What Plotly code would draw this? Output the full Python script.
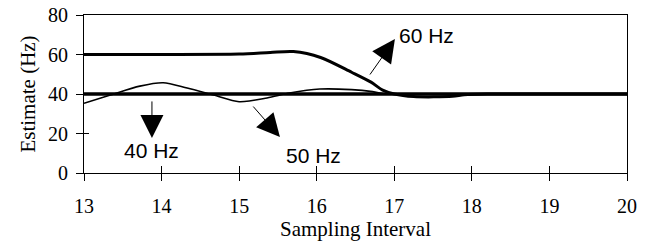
import plotly.graph_objects as go

# Data
x40 = [13, 14, 15, 16, 17, 18, 19, 20]
y40 = [40, 40, 40, 40, 40, 40, 40, 40]

x60 = [13, 14, 15, 15.4, 15.7, 16.05, 16.45, 16.7, 16.85, 17.0, 17.25, 17.75, 17.9, 18.2, 19, 20]
y60 = [60, 60, 60.2, 61.0, 61.5, 58.5, 51, 46, 42, 40, 38.7, 38.8, 39.6, 40, 40, 40]

x50 = [13, 13.34, 13.72, 14.02, 14.33, 14.67, 15.0, 15.36, 15.65, 16.04, 16.45, 16.72, 16.9, 17.2, 18, 19, 20]
y50 = [35.3, 39.5, 44, 45.7, 43, 39.5, 36.1, 38, 40.5, 42.5, 42.2, 41.2, 40, 40, 40, 40, 40]

x_ticks = [13, 14, 15, 16, 17, 18, 19, 20]
y_ticks = [0, 20, 40, 60, 80]

labels = ["40 Hz", "50 Hz", "60 Hz"]
label_x = [13.87, 15.96, 17.41]
label_y = [11.6, 9.1, 69.4]
arrow_tip_x = [13.876, 15.526, 17.008]
arrow_tip_y = [17.7, 18.2, 67.8]
arrow_tail_x = [13.876, 15.165, 16.673]
arrow_tail_y = [37.0, 34.4, 49.1]

fig = go.Figure()
fig.add_trace(go.Scatter(x=x50, y=y50, mode="lines", line=dict(color="black", width=1.6, shape="spline", smoothing=0.8), showlegend=False))
fig.add_trace(go.Scatter(x=x40, y=y40, mode="lines", line=dict(color="black", width=3.4), showlegend=False))
fig.add_trace(go.Scatter(x=x60, y=y60, mode="lines", line=dict(color="black", width=3, shape="spline", smoothing=0.8), showlegend=False))
# invisible trace to activate overlay axes for crossing ticks
fig.add_trace(go.Scatter(x=[13], y=[0], xaxis="x2", yaxis="y2", mode="markers", marker=dict(opacity=0), showlegend=False, hoverinfo="skip"))

for t, lx, ly in zip(labels, label_x, label_y):
    fig.add_annotation(x=lx, y=ly, text=t, showarrow=False,
                       font=dict(family="Liberation Sans, Arial", size=21, color="black"))
for tx, ty, ax, ay in zip(arrow_tip_x, arrow_tip_y, arrow_tail_x, arrow_tail_y):
    fig.add_annotation(x=tx, y=ty, ax=ax, ay=ay, axref="x", ayref="y", xref="x", yref="y",
                       text="", showarrow=True, arrowhead=2, arrowsize=4.6, arrowwidth=1.0,
                       arrowcolor="black")

serif = "Liberation Serif, Times New Roman"
fig.update_layout(
    width=650, height=243,
    margin=dict(l=84, r=23, t=15, b=70),
    paper_bgcolor="white", plot_bgcolor="white",
    font=dict(family=serif, size=20, color="black"),
    xaxis=dict(range=[13, 20], tickvals=x_ticks, ticks="outside", ticklen=7, tickwidth=1,
               tickcolor="black", showline=True, linecolor="black", linewidth=1, mirror=True,
               showgrid=False, zeroline=False, ticklabelstandoff=8, automargin=False,
               tickfont=dict(family=serif, size=20),
               title=dict(text="Sampling Interval", font=dict(family=serif, size=21), standoff=0)),
    yaxis=dict(range=[0, 80], tickvals=y_ticks, ticks="outside", ticklen=7, tickwidth=1,
               tickcolor="black", showline=True, linecolor="black", linewidth=1, mirror=True,
               showgrid=False, zeroline=False, ticklabelstandoff=4, automargin=False,
               tickfont=dict(family=serif, size=20),
               title=dict(text="Estimate (Hz)", font=dict(family=serif, size=21), standoff=6)),
    xaxis2=dict(range=[13, 20], overlaying="x", anchor="y", side="bottom", tickvals=x_ticks,
                ticks="inside", ticklen=7, tickcolor="black", showticklabels=False,
                showline=False, showgrid=False, zeroline=False, automargin=False),
    yaxis2=dict(range=[0, 80], overlaying="y", anchor="x", side="left", tickvals=y_ticks,
                ticks="inside", ticklen=5, tickcolor="black", showticklabels=False,
                showline=False, showgrid=False, zeroline=False, automargin=False),
)
fig.write_html("out.html", config={"displayModeBar": False},
               post_script="document.body.style.margin='0';")
